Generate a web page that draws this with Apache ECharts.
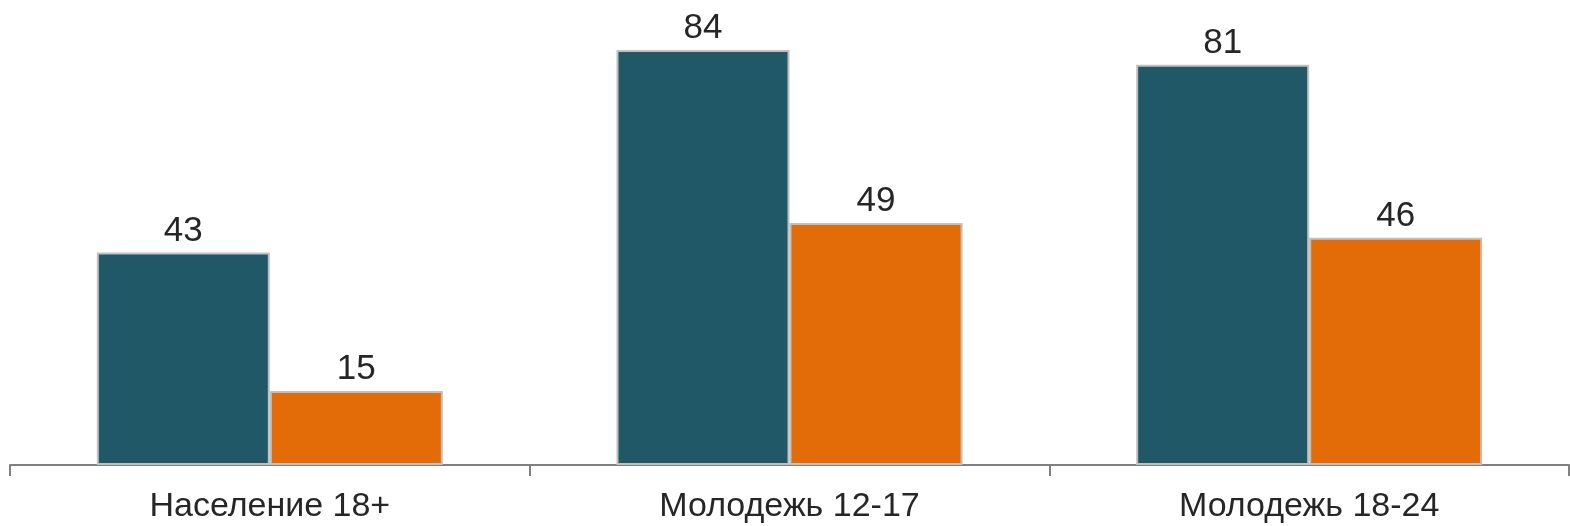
<!DOCTYPE html>
<html>
<head>
<meta charset="utf-8">
<script src="https://cdn.jsdelivr.net/npm/echarts@6/dist/echarts.min.js"></script>
<style>
html,body{margin:0;padding:0;background:#fff;}
#chart{width:1570px;height:526px;}
</style>
</head>
<body>
<div id="chart"></div>
<script>
const categories = ['Население 18+', 'Молодежь 12-17', 'Молодежь 18-24'];
const seriesA = [43, 84, 81];
const seriesB = [15, 49, 46];

const chart = echarts.init(document.getElementById('chart'));
const labelStyle = {
  show: true,
  position: 'top',
  distance: 4,
  color: '#262626',
  fontFamily: 'Liberation Sans, Arial, sans-serif',
  fontSize: 35
};
chart.setOption({
  animation: false,
  grid: { left: 10, right: 1, top: 50, bottom: 61 },
  xAxis: {
    type: 'category',
    data: categories,
    axisLine: { lineStyle: { color: '#808080', width: 2 } },
    axisTick: { show: true, length: 11, lineStyle: { color: '#808080', width: 2 } },
    axisLabel: {
      color: '#262626',
      fontFamily: 'Liberation Sans, Arial, sans-serif',
      fontSize: 34,
      margin: 25
    }
  },
  yAxis: {
    type: 'value',
    min: 0,
    max: 84,
    show: false,
    splitLine: { show: false }
  },
  series: [
    {
      type: 'bar',
      data: seriesA,
      barWidth: 173,
      barGap: '0%',
      itemStyle: { color: '#215868', borderColor: '#c0c0c0', borderWidth: 2 },
      label: labelStyle
    },
    {
      type: 'bar',
      data: seriesB,
      barWidth: 173,
      barGap: '0%',
      itemStyle: { color: '#E36C09', borderColor: '#c0c0c0', borderWidth: 2 },
      label: labelStyle
    }
  ]
});
</script>
</body>
</html>
